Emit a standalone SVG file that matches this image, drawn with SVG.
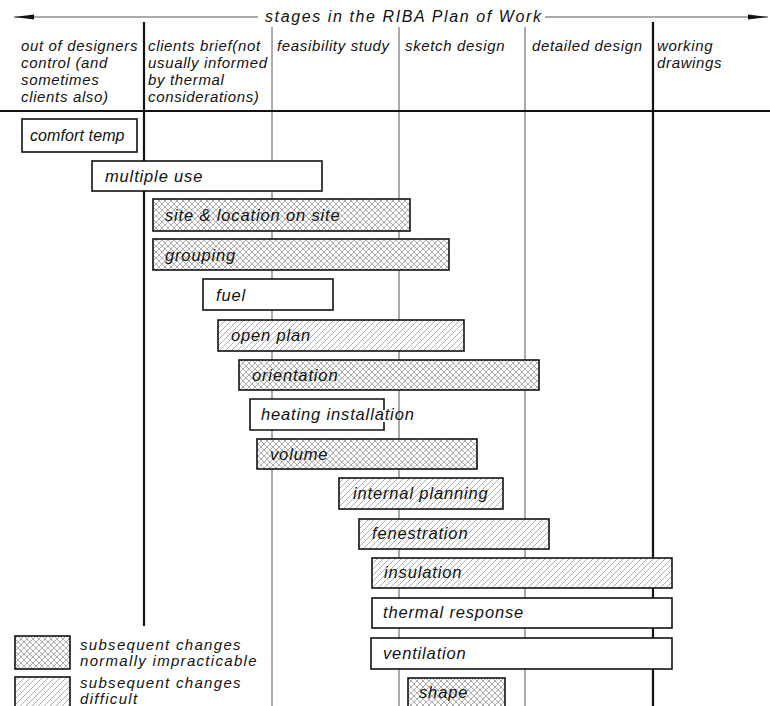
<svg xmlns="http://www.w3.org/2000/svg" width="770" height="706" viewBox="0 0 770 706">
<style>
text{font-family:"Liberation Sans","DejaVu Sans",sans-serif;font-style:italic;font-size:16.5px;fill:#111;letter-spacing:0.85px}
.hd{font-size:16px;letter-spacing:1.6px}
.col{font-size:15px;letter-spacing:0.65px}
.lg{font-size:15px;letter-spacing:1.3px}
.bar{stroke:#111;stroke-width:1.6}
.thin{stroke:#444;stroke-width:0.9}
.thick{stroke:#111;stroke-width:2.2}
</style>
<defs>
<pattern id="cross" patternUnits="userSpaceOnUse" width="6" height="6">
<rect width="6" height="6" fill="#fff"/>
<path d="M0,0L6,6M0,6L6,0M-3,3L3,9M3,-3L9,3M-3,3L3,-3M3,9L9,3" stroke="#777" stroke-width="0.6"/>
</pattern>
<pattern id="diag" patternUnits="userSpaceOnUse" width="6" height="6">
<rect width="6" height="6" fill="#fff"/>
<path d="M0,6L6,0M-3,3L3,-3M3,9L9,3" stroke="#888" stroke-width="0.7"/>
</pattern>
<marker id="ah" viewBox="0 0 20 8" refX="20" refY="4" markerWidth="20" markerHeight="8" markerUnits="userSpaceOnUse" orient="auto-start-reverse">
<path d="M0,1.5L20,4L0,6.5Z" fill="#111"/>
</marker>
</defs>
<rect width="770" height="706" fill="#fff"/>

<g id="grid">
<line x1="14" y1="17" x2="258" y2="17" class="thin" marker-start="url(#ah)"/>
<line x1="545" y1="17" x2="768" y2="17" class="thin" marker-end="url(#ah)"/>
<text x="265" y="22" class="hd">stages in the RIBA Plan of Work</text>
<line x1="144" y1="22" x2="144" y2="626" class="thick"/>
<line x1="272" y1="27" x2="272" y2="706" class="thin"/>
<line x1="399" y1="27" x2="399" y2="706" class="thin"/>
<line x1="525" y1="27" x2="525" y2="706" class="thin"/>
<line x1="653" y1="22" x2="653" y2="706" class="thick"/>
<line x1="0" y1="111" x2="770" y2="111" class="thick"/>
</g>

<g id="headers">
<text class="col" x="21" y="51">out of designers</text>
<text class="col" x="21" y="68">control (and</text>
<text class="col" x="21" y="85">sometimes</text>
<text class="col" x="21" y="102">clients also)</text>
<text class="col" x="148" y="51">clients brief(not</text>
<text class="col" x="148" y="68">usually informed</text>
<text class="col" x="148" y="85">by thermal</text>
<text class="col" x="148" y="102">considerations)</text>
<text class="col" x="277" y="51">feasibility study</text>
<text class="col" x="405" y="51">sketch design</text>
<text class="col" x="532" y="51">detailed design</text>
<text class="col" x="657" y="51">working</text>
<text class="col" x="657" y="68">drawings</text>
</g>

<g id="comfort-temp"><rect x="22" y="119" width="115" height="33" fill="#fff" class="bar"/><text x="30" y="141" style="font-size:16px;letter-spacing:0.1px">comfort temp</text></g>
<g id="multiple-use"><rect x="92" y="161" width="230" height="30" fill="#fff" class="bar"/><text x="105" y="182">multiple use</text></g>
<g id="site-location"><rect x="153" y="199" width="257" height="32" fill="url(#cross)" class="bar"/><text x="165" y="221">site &amp; location on site</text></g>
<g id="grouping"><rect x="153" y="239" width="296" height="31" fill="url(#cross)" class="bar"/><text x="165" y="261">grouping</text></g>
<g id="fuel"><rect x="203" y="279" width="130" height="31" fill="#fff" class="bar"/><text x="216" y="301">fuel</text></g>
<g id="open-plan"><rect x="218" y="320" width="246" height="31" fill="url(#diag)" class="bar"/><text x="231" y="341">open plan</text></g>
<g id="orientation"><rect x="239" y="360" width="300" height="30" fill="url(#cross)" class="bar"/><text x="252" y="381">orientation</text></g>
<g id="heating-installation"><path d="M384,410V399H250V430H384V422" fill="#fff" class="bar"/><text x="261" y="420">heating installation</text></g>
<g id="volume"><rect x="257" y="439" width="220" height="30" fill="url(#cross)" class="bar"/><text x="270" y="460">volume</text></g>
<g id="internal-planning"><rect x="339" y="478" width="164" height="31" fill="url(#diag)" class="bar"/><text x="353" y="499">internal planning</text></g>
<g id="fenestration"><rect x="359" y="519" width="190" height="30" fill="url(#diag)" class="bar"/><text x="372" y="539">fenestration</text></g>
<g id="insulation"><rect x="372" y="558" width="300" height="30" fill="url(#diag)" class="bar"/><text x="384" y="578">insulation</text></g>
<g id="thermal-response"><rect x="372" y="598" width="300" height="30" fill="#fff" class="bar"/><text x="383" y="618">thermal response</text></g>
<g id="ventilation"><rect x="371" y="638" width="301" height="31" fill="#fff" class="bar"/><text x="383" y="659">ventilation</text></g>
<g id="shape"><rect x="408" y="678" width="97" height="34" fill="url(#cross)" class="bar"/><text x="419" y="698">shape</text></g>

<g id="legend">
<rect x="15" y="636" width="55" height="33" fill="url(#cross)" class="bar"/>
<text class="lg" x="80" y="650">subsequent changes</text>
<text class="lg" x="80" y="666">normally impracticable</text>
<rect x="15" y="677" width="55" height="34" fill="url(#diag)" class="bar"/>
<text class="lg" x="80" y="688">subsequent changes</text>
<text class="lg" x="80" y="704">difficult</text>
</g>
</svg>
